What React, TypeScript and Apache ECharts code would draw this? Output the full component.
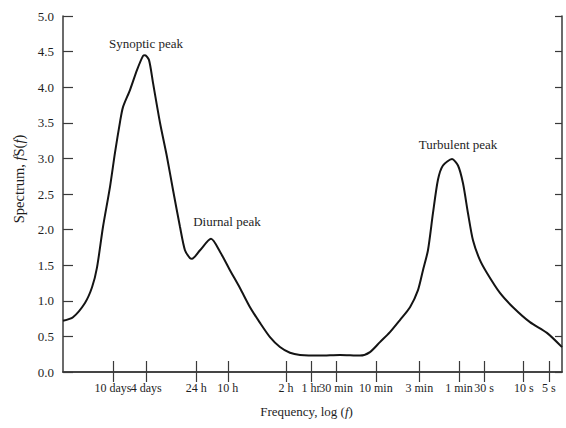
import React, { useEffect, useRef } from "react";
import * as echarts from "echarts";

// Period tick labels (x axis is log frequency, drawn as log10 of period, reversed)
const tickLabels = ["10 days", "4 days", "24 h", "10 h", "2 h", "1 hr", "30 min", "10 min", "3 min", "1 min", "30 s", "10 s", "5 s"];
const tickSeconds = [864000, 345600, 86400, 36000, 7200, 3600, 1800, 600, 180, 60, 30, 10, 5];
const tickLogs = tickSeconds.map((s) => Math.log10(s));

// Curve: log10(period in seconds) and spectrum f·S(f)
const logPeriod = [
  6.538, 6.418, 6.274, 6.189, 6.129, 6.057, 5.973, 5.913, 5.853, 5.817, 5.733, 5.649, 5.576, 5.552,
  5.504, 5.456, 5.372, 5.288, 5.216, 5.132, 5.072, 5.012, 4.988, 4.891, 4.759, 4.651, 4.531, 4.411,
  4.29, 4.17, 4.05, 3.93, 3.81, 3.689, 3.449, 3.209, 2.968, 2.848, 2.728, 2.608, 2.488, 2.367, 2.271,
  2.211, 2.151, 2.091, 2.031, 1.971, 1.862, 1.79, 1.73, 1.67, 1.61, 1.526, 1.442, 1.286, 1.129, 0.925,
  0.721, 0.54,
];
const spectrum = [
  0.72, 0.77, 0.97, 1.19, 1.47, 2.04, 2.6, 3.08, 3.51, 3.72, 3.96, 4.24, 4.44, 4.45,
  4.38, 4.06, 3.5, 3.02, 2.56, 2.04, 1.71, 1.6, 1.59, 1.71, 1.87, 1.69, 1.43, 1.18,
  0.91, 0.69, 0.49, 0.35, 0.27, 0.24, 0.23, 0.24, 0.23, 0.28, 0.42, 0.56, 0.73, 0.91, 1.15,
  1.43, 1.71, 2.23, 2.7, 2.9, 2.99, 2.9, 2.65, 2.23, 1.85, 1.57, 1.39, 1.11, 0.91, 0.7,
  0.55, 0.35,
];

// Peak annotations (anchored in data coordinates)
const peakNames = ["Synoptic peak", "Diurnal peak", "Turbulent peak"];
const peakLogPeriod = [5.54, 4.567, 1.79];
const peakSpectrum = [4.62, 2.11, 3.19];

const yMin = 0;
const yMax = 5;
const yStep = 0.5;
const xLeft = 6.538;
const xRight = 0.54;

const FONT = "'Liberation Serif', 'DejaVu Serif', serif";
const TEXT = "#1e1e1e";
const AXIS = "#3a3a3a";

export default function App() {
  const ref = useRef<HTMLDivElement>(null);

  useEffect(() => {
    if (!ref.current) return;
    const chart = echarts.init(ref.current, undefined, { renderer: "svg" });
    const labelFor = (v: number) => {
      const i = tickLogs.findIndex((t) => Math.abs(t - v) < 1e-6);
      return i >= 0 ? tickLabels[i] : "";
    };
    // label values listed from the middle outwards so no end label is treated as an extent label
    const mid = Math.floor(tickLogs.length / 2);
    const labelOrder = [...tickLogs.slice(mid), ...tickLogs.slice(0, mid)];
    const xCommon = {
      type: "value" as const,
      min: xRight,
      max: xLeft,
      inverse: true,
      splitLine: { show: false },
      axisLine: { show: true, lineStyle: { color: AXIS, width: 1.5 } },
    };
    const yCommon = {
      type: "value" as const,
      min: yMin,
      max: yMax,
      interval: yStep,
      splitLine: { show: false },
      axisLine: { show: true, lineStyle: { color: AXIS, width: 1.5 } },
    };
    chart.setOption({
      animation: false,
      backgroundColor: "#ffffff",
      grid: { left: 63, right: 4, top: 16, bottom: 56, containLabel: false },
      xAxis: [
        {
          ...xCommon,
          position: "bottom",
          name: "Frequency, log ({i|f})",
          nameLocation: "middle",
          nameGap: 33,
          nameTextStyle: {
            fontFamily: FONT,
            fontSize: 13,
            color: TEXT,
            padding: [0, 12, 0, 0],
            rich: { i: { fontFamily: FONT, fontSize: 13, fontStyle: "italic", color: TEXT } },
          },
          axisTick: { show: true, inside: true, length: 11, customValues: tickLogs, lineStyle: { color: AXIS, width: 1.2 } },
          axisLabel: {
            show: true,
            customValues: labelOrder,
            hideOverlap: false,
            interval: 0,
            formatter: (v: number) => labelFor(v),
            margin: 10,
            fontFamily: FONT,
            fontSize: 12,
            color: TEXT,
          },
        },
        {
          ...xCommon,
          position: "top",
          axisTick: { show: true, inside: true, length: 10, customValues: tickLogs, lineStyle: { color: AXIS, width: 1.2 } },
          axisLabel: { show: false },
        },
      ],
      yAxis: [
        {
          ...yCommon,
          position: "left",
          name: "Spectrum, {i|f}S({i|f})",
          nameLocation: "middle",
          nameGap: 34,
          nameTextStyle: {
            fontFamily: FONT,
            fontSize: 14.5,
            color: TEXT,
            padding: [0, 0, 0, 30],
            rich: { i: { fontFamily: FONT, fontSize: 14.5, fontStyle: "italic", color: TEXT } },
          },
          axisTick: { show: true, inside: true, length: 10, lineStyle: { color: AXIS, width: 1.2 } },
          axisLabel: {
            show: true,
            margin: 9,
            formatter: (v: number) => v.toFixed(1),
            fontFamily: FONT,
            fontSize: 13,
            color: TEXT,
          },
        },
        {
          ...yCommon,
          position: "right",
          axisTick: { show: true, inside: true, length: 7, lineStyle: { color: AXIS, width: 1.2 } },
          axisLabel: { show: false },
        },
      ],
      series: [
        {
          type: "line",
          xAxisIndex: 0,
          yAxisIndex: 0,
          data: logPeriod.map((x, i) => [x, spectrum[i]]),
          smooth: 0.25,
          showSymbol: false,
          symbol: "none",
          lineStyle: { color: "#141414", width: 2 },
          markPoint: {
            symbol: "circle",
            symbolSize: 1,
            itemStyle: { color: "rgba(0,0,0,0)" },
            label: {
              show: true,
              position: "inside",
              fontFamily: FONT,
              fontSize: 13,
              color: TEXT,
              formatter: (p: any) => p.name,
            },
            data: peakNames.map((n, i) => ({ name: n, coord: [peakLogPeriod[i], peakSpectrum[i]] })),
          },
        },
      ],
    });
    return () => chart.dispose();
  }, []);

  return (
    <div
      ref={ref}
      style={{ position: "absolute", left: 0, top: 0, width: 566, height: 428 }}
    />
  );
}
